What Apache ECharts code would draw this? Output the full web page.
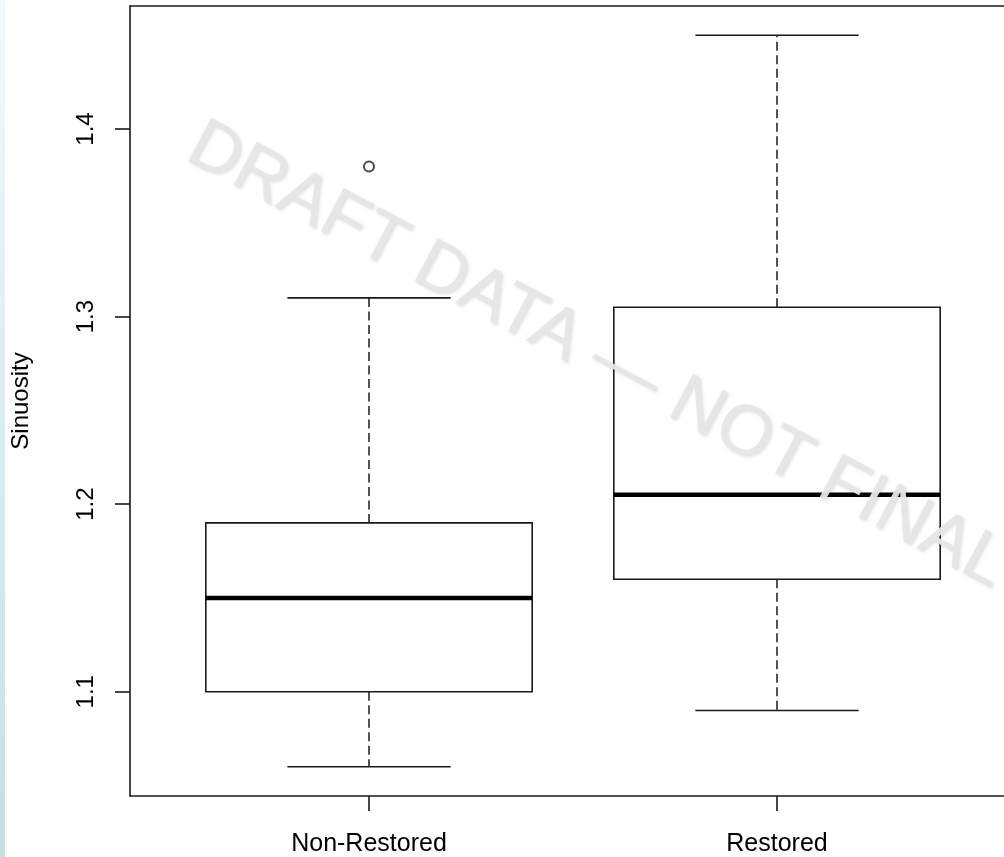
<!DOCTYPE html>
<html>
<head>
<meta charset="utf-8">
<title>Sinuosity boxplot</title>
<script src="https://cdn.jsdelivr.net/npm/echarts@6/dist/echarts.min.js"></script>
<style>
  html, body { margin: 0; padding: 0; background: #ffffff; }
  #chart { width: 1004px; height: 857px; }
</style>
</head>
<body>
<div id="chart"></div>
<script>
// Group names and five-number summaries
const categories = ['Non-Restored', 'Restored'];
const lowerWhisker = [1.06, 1.09];
const q1 = [1.10, 1.16];
const median = [1.15, 1.205];
const q3 = [1.19, 1.305];
const upperWhisker = [1.31, 1.45];
// Outliers: [group index, value]
const outliers = [[0, 1.38]];
// Axis ticks
const yTicks = [1.1, 1.2, 1.3, 1.4];
const xTicks = [1, 2];

const FONT = '"Liberation Sans", Arial, sans-serif';
const LINE = '#1a1a1a';

const boxData = categories.map((c, i) => [i + 1, lowerWhisker[i], q1[i], median[i], q3[i], upperWhisker[i]]);
const outlierData = outliers.map(o => [o[0] + 1, o[1]]);

function renderBox(params, api) {
  const x = api.value(0);
  const lo = api.coord([x, api.value(1)]);
  const b1 = api.coord([x, api.value(2)]);
  const md = api.coord([x, api.value(3)]);
  const b3 = api.coord([x, api.value(4)]);
  const hi = api.coord([x, api.value(5)]);
  const halfBox = api.size([0.4, 0])[0];
  const halfCap = api.size([0.2, 0])[0];
  const cx = lo[0];
  const dash = { stroke: LINE, lineWidth: 1.5, lineDash: [9, 4.5] };
  const solid = { stroke: LINE, lineWidth: 1.6 };
  return {
    type: 'group',
    children: [
      { type: 'line', shape: { x1: cx, y1: b3[1], x2: cx, y2: hi[1] }, style: dash },
      { type: 'line', shape: { x1: cx, y1: b1[1], x2: cx, y2: lo[1] }, style: dash },
      { type: 'line', shape: { x1: cx - halfCap, y1: hi[1], x2: cx + halfCap, y2: hi[1] }, style: solid },
      { type: 'line', shape: { x1: cx - halfCap, y1: lo[1], x2: cx + halfCap, y2: lo[1] }, style: solid },
      { type: 'rect', shape: { x: cx - halfBox, y: b3[1], width: halfBox * 2, height: b1[1] - b3[1] },
        style: { fill: 'none', stroke: LINE, lineWidth: 1.6 } },
      { type: 'line', shape: { x1: cx - halfBox, y1: md[1], x2: cx + halfBox, y2: md[1] },
        style: { stroke: '#000', lineWidth: 4.5 } }
    ]
  };
}

const chart = echarts.init(document.getElementById('chart'), null, { renderer: 'canvas' });

const axisLineStyle = { color: LINE, width: 1.6 };

chart.setOption({
  animation: false,
  backgroundColor: '#ffffff',
  // Plot region runs off the right edge of the canvas
  grid: { left: 130, top: 6, right: 0, bottom: 60 },
  xAxis: [
    {
      type: 'value',
      position: 'bottom',
      min: 0.4142, max: 2.5564,
      axisLine: { show: true, onZero: false, lineStyle: axisLineStyle },
      splitLine: { show: false },
      axisTick: { show: true, customValues: xTicks, length: 15, lineStyle: axisLineStyle },
      axisLabel: {
        customValues: xTicks,
        formatter: v => categories[Math.round(v) - 1],
        margin: 36,
        fontSize: 25,
        color: '#000',
        fontFamily: FONT
      }
    },
    {
      // top frame edge
      type: 'value',
      position: 'top',
      min: 0.4142, max: 2.5564,
      axisLine: { show: true, onZero: false, lineStyle: axisLineStyle },
      axisTick: { show: false },
      axisLabel: { show: false },
      splitLine: { show: false }
    }
  ],
  yAxis: {
    type: 'value',
    min: 1.0444, max: 1.4656,
    name: 'Sinuosity',
    nameLocation: 'middle',
    nameGap: 97,
    nameTextStyle: { fontSize: 24, color: '#000', fontFamily: FONT },
    axisLine: { show: true, onZero: false, lineStyle: axisLineStyle },
    splitLine: { show: false },
    axisTick: { show: true, customValues: yTicks, length: 15, lineStyle: axisLineStyle },
    axisLabel: {
      customValues: yTicks,
      rotate: 90,
      formatter: v => Number(v).toFixed(1),
      margin: 32,
      fontSize: 24,
      color: '#000',
      fontFamily: FONT
    }
  },
  series: [
    {
      type: 'custom',
      renderItem: renderBox,
      data: boxData,
      encode: { x: 0, y: [1, 2, 3, 4, 5] },
      z: 2
    },
    {
      type: 'scatter',
      data: outlierData,
      symbol: 'emptyCircle',
      symbolSize: 10,
      itemStyle: { color: LINE, borderColor: LINE, borderWidth: 1.5 },
      z: 3
    }
  ],
  graphic: [
    {
      type: 'rect',
      left: 0, top: 0,
      shape: { width: 5, height: 857 },
      style: {
        fill: new echarts.graphic.LinearGradient(0, 0, 0, 1, [
          { offset: 0, color: '#f2f9fb' },
          { offset: 1, color: '#c4dfe6' }
        ])
      },
      z: 10
    },
    {
      type: 'text',
      x: 597, y: 356,
      rotation: -28 * Math.PI / 180,
      z: 100,
      style: {
        text: 'DRAFT DATA \u2014 NOT FINAL',
        font: '71px ' + FONT,
        fill: 'rgba(230,230,230,0.95)',
        align: 'center',
        verticalAlign: 'middle',
        textShadowColor: 'rgba(0,0,0,0.13)',
        textShadowBlur: 3,
        textShadowOffsetX: 1.5,
        textShadowOffsetY: 1.5
      }
    }
  ]
});
</script>
</body>
</html>
